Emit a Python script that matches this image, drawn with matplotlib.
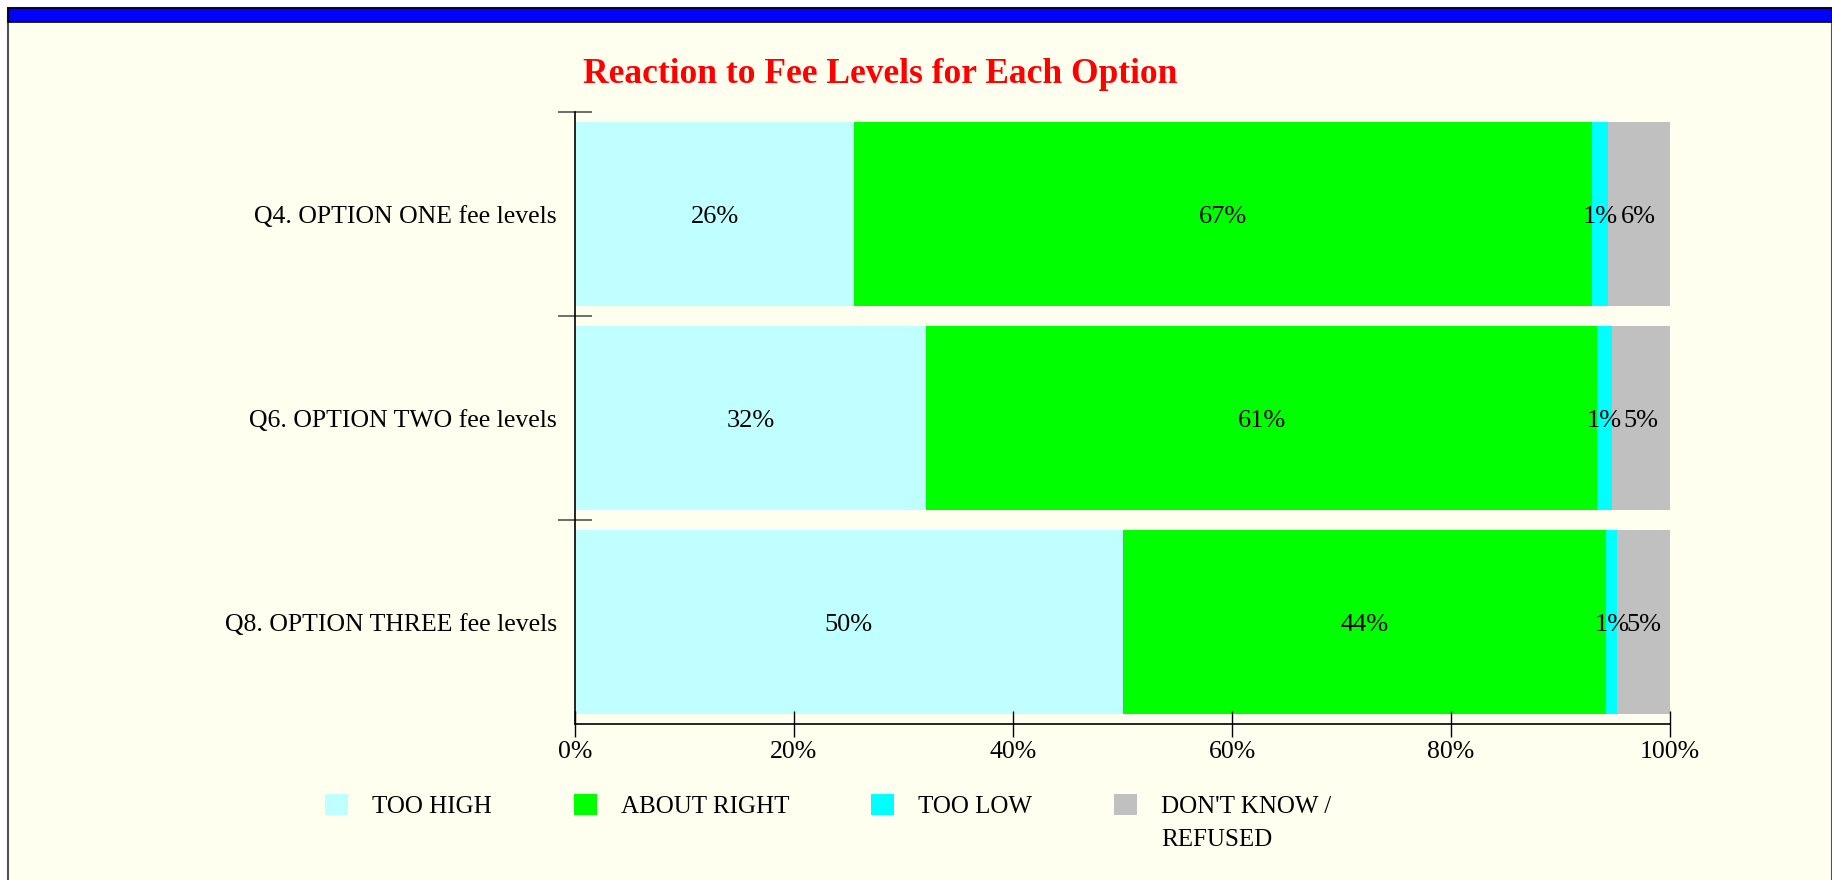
import numpy as np
from matplotlib import pyplot as plt
from matplotlib.patches import Rectangle
import matplotlib

matplotlib.rcParams["font.family"] = ["Liberation Serif", "DejaVu Serif"]

questions = [
    "Q4. OPTION ONE fee levels",
    "Q6. OPTION TWO fee levels",
    "Q8. OPTION THREE fee levels",
]
too_high = [25.5, 32.1, 50.0]
about_right = [67.4, 61.2, 44.2]
too_low = [1.4, 1.4, 1.0]
dont_know = [5.7, 5.3, 4.8]

series_names = ["TOO HIGH", "ABOUT RIGHT", "TOO LOW", "DON'T KNOW /"]
color_list = ["#C0FFFF", "#00FF00", "#00FFFF", "#C0C0C0"]
x_ticks = [0, 20, 40, 60, 80, 100]

W, H = 1833, 880
fig = plt.figure(figsize=(W / 100, H / 100), dpi=100, facecolor="white")

# page panel + blue header strip
fig.add_artist(Rectangle((8 / W, -0.01), 1824 / W, 1.01 - 8 / H, transform=fig.transFigure,
                         facecolor="#FFFFF0", edgecolor="#505050", lw=1.5, zorder=-10))
fig.add_artist(Rectangle((8 / W, 1 - 22 / H), 1824 / W, 14 / H, transform=fig.transFigure,
                         facecolor="#0000FF", edgecolor="black", lw=1.2, zorder=-9))

ax = fig.add_axes([575 / W, 1 - 724 / H, 1095 / W, 612 / H])
ax.patch.set_visible(False)

y = np.arange(len(questions))
left = np.zeros(len(questions))
containers = []
for vals, col in zip([too_high, about_right, too_low, dont_know], color_list):
    vals = np.array(vals)
    bc = ax.barh(y, vals, left=left, height=0.9, color=col, edgecolor="none")
    txts = ax.bar_label(bc, labels=[f"{round(v)}%" for v in vals], label_type="center",
                        fontsize=19, color="black")
    for t in txts:
        t.set_va("center_baseline")
    containers.append(bc)
    left += vals

ax.set_xlim(0, 100)
ax.set_ylim(2.5, -0.5)
ax.set_xticks(x_ticks)
ax.set_xticklabels([f"{t}%" for t in x_ticks])
ax.tick_params(axis="x", direction="inout", length=18.7, width=1, colors="black",
               labelsize=18.5, pad=3)

ax.set_yticks([-0.5, 0.5, 1.5])
ax.set_yticklabels([])
ax.tick_params(axis="y", which="major", direction="inout", length=24, width=1.2, color="#555555")
ax.set_yticks(y, minor=True)
ax.set_yticklabels(questions, minor=True)
ax.tick_params(axis="y", which="minor", length=0, labelsize=18.5, pad=13)
for t in ax.get_yticklabels(minor=True):
    t.set_va("center_baseline")

for s in ["top", "right"]:
    ax.spines[s].set_visible(False)
for s in ["left", "bottom"]:
    ax.spines[s].set_color("black")
    ax.spines[s].set_linewidth(1.2)

fig.text(880 / W, 1 - 74.5 / H, "Reaction to Fee Levels for Each Option", ha="center", va="center",
         color="#FF0000", fontsize=25.5, fontweight="bold")

leg = fig.legend([c.patches[0] for c in containers], series_names, loc="upper left",
                 bbox_to_anchor=(325 / W, 1 - 794 / H), frameon=False, ncol=4,
                 fontsize=18, borderpad=0, borderaxespad=0, handlelength=0.92,
                 handleheight=0.92, handletextpad=0.96, columnspacing=3.28)

# second line of the last legend entry, placed under its first line
fig.canvas.draw()
bb = leg.get_texts()[3].get_window_extent()
fig.text(bb.x0 / W, (bb.y0 - 11) / H, "REFUSED", ha="left", va="top", fontsize=18)

plt.savefig("out.png", dpi=100, facecolor="white")
plt.close()
